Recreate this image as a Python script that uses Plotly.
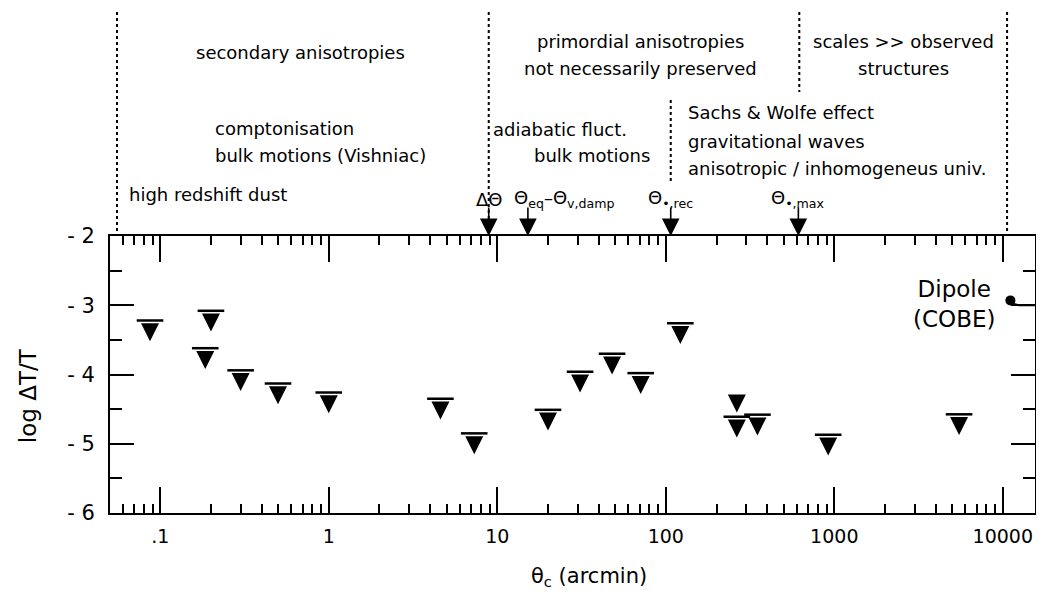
import numpy as np
import plotly.graph_objects as go

# upper limits on log dT/T (level of the bar) vs angular scale theta_c in arcmin
theta_c = [0.087, 0.2, 0.185, 0.30, 0.5, 1.0, 4.6, 7.3, 20, 31, 48, 71, 122, 264, 350, 920, 5500]
log_dT = [-3.22, -3.08, -3.62, -3.94, -4.13, -4.26, -4.35, -4.85, -4.51, -3.96,
          -3.70, -3.98, -3.26, -4.61, -4.58, -4.87, -4.575]

# limit drawn without a bar
theta_nobar = [264]
log_dT_nobar = [-4.25]

# COBE dipole
dipole_theta = [11090]
dipole_log_dT = [-2.93]

# characteristic scales marked by arrows on the top axis
scale_theta = [8.9, 15.2, 107, 612]
scale_names = ["ΔΘ", "Θ<sub>eq</sub>–Θ<sub>v,damp</sub>", "Θ<sub>•,rec</sub>", "Θ<sub>•,max</sub>"]

# dotted region boundaries above the frame
full_bounds = [0.0554, 8.9, 10600]
upper_bound = [620]
middle_bound = [107]

x_tickvals = [0.1, 1, 10, 100, 1000, 10000]
x_ticktext = [".1", "1", "10", "100", "1000", "10000"]
y_tickvals = [-2, -3, -4, -5, -6]
y_ticktext = ["- 2", "- 3", "- 4", "- 5", "- 6"]

W, H = 1044, 595
L, R, T, B = 110, 7, 236, 82
PAGE = 8  # default body margin of the html page
x_range = [-1.298, 4.191]
y_range = [-6, -2]
FONT = "DejaVu Sans"

bar_to_tip = 0.30  # triangle tip sits this far below the bar (in log dT/T units)


def xp(v):
    return (np.log10(v) - x_range[0]) / (x_range[1] - x_range[0])


def px2x(px):
    return (px - L) / (W - L - R)


def py2y(py):
    return (H - B - py) / (H - T - B)


fig = go.Figure()

fig.add_trace(go.Scatter(
    x=theta_c, y=log_dT, mode="markers", cliponaxis=False,
    marker=dict(symbol="line-ew", size=19, line=dict(width=2.5, color="black")),
    hoverinfo="skip"))
fig.add_trace(go.Scatter(
    x=theta_c + theta_nobar,
    y=[v - bar_to_tip for v in log_dT + log_dT_nobar],
    mode="markers", cliponaxis=False,
    marker=dict(symbol="arrow-down", size=18, color="black", line=dict(width=0))))

# dipole point with its hook to the frame
hook_x = [dipole_theta[0], dipole_theta[0] * 1.05, dipole_theta[0] * 1.12, 10 ** x_range[1]]
hook_y = [dipole_log_dT[0], dipole_log_dT[0] - 0.05, dipole_log_dT[0] - 0.07, dipole_log_dT[0] - 0.07]
fig.add_trace(go.Scatter(x=hook_x, y=hook_y, mode="lines", line=dict(color="black", width=2)))
fig.add_trace(go.Scatter(x=dipole_theta, y=dipole_log_dT, mode="markers", cliponaxis=False,
                         marker=dict(symbol="circle", size=10, color="black")))

shapes = []
dot = dict(color="black", width=2, dash="3px,3px")
for v in full_bounds:
    shapes.append(dict(type="line", xref="paper", yref="paper", x0=xp(v), x1=xp(v),
                       y0=py2y(12), y1=1, line=dot))
for v in upper_bound:
    shapes.append(dict(type="line", xref="paper", yref="paper", x0=xp(v), x1=xp(v),
                       y0=py2y(12), y1=py2y(92), line=dot))
for v in middle_bound:
    shapes.append(dict(type="line", xref="paper", yref="paper", x0=xp(v), x1=xp(v),
                       y0=py2y(100), y1=py2y(184), line=dot))

annotations = []
for v in scale_theta:
    annotations.append(dict(x=np.log10(v), xref="x", y=1, yref="paper", text="",
                            showarrow=True, ax=0, ay=-30, arrowhead=2, arrowsize=2.2,
                            arrowwidth=1.6, arrowcolor="black"))

lab = dict(xref="paper", yref="paper", showarrow=False, font=dict(family=FONT, size=18, color="black"))
scale_lab = [(xp(scale_theta[0]), "center"), (px2x(513), "left"),
             (xp(scale_theta[2]), "center"), (xp(scale_theta[3]), "center")]
for (x, anc), name in zip(scale_lab, scale_names):
    annotations.append(dict(lab, x=x, y=py2y(199), text=name, xanchor=anc, yanchor="middle"))

header = [
    ("secondary anisotropies", 301, 53, "center"),
    ("comptonisation", 213, 128, "left"),
    ("bulk motions (Vishniac)", 213, 155, "left"),
    ("high redshift dust", 127, 195, "left"),
    ("primordial anisotropies", 642, 41, "center"),
    ("not necessarily preserved", 642, 68, "center"),
    ("scales >> observed", 905, 41, "center"),
    ("structures", 905, 68, "center"),
    ("adiabatic fluct.", 492, 130, "left"),
    ("bulk motions", 653, 156, "right"),
    ("Sachs & Wolfe effect", 687, 112, "left"),
    ("gravitational waves", 687, 141, "left"),
    ("anisotropic / inhomogeneus univ.", 687, 169, "left"),
]
for text, x, y, anc in header:
    annotations.append(dict(lab, x=px2x(x), y=py2y(y), text=text, xanchor=anc, yanchor="middle"))

annotations.append(dict(lab, x=px2x(956), y=py2y(304), text="Dipole<br>(COBE)", xanchor="center",
                        yanchor="middle", font=dict(family=FONT, size=23, color="black")))
annotations.append(dict(lab, x=px2x(28), y=py2y(396), text="log ΔT/T", textangle=-90,
                        xanchor="center", yanchor="middle", font=dict(family=FONT, size=23, color="black")))
annotations.append(dict(lab, x=px2x(590), y=py2y(577), text="θ<sub>c</sub> (arcmin)",
                        xanchor="center", yanchor="middle", font=dict(family=FONT, size=21, color="black")))

# the page adds an 8px body margin, so the figure is drawn 8px smaller and shifted
fig.update_layout(
    width=W - PAGE, height=H - PAGE, margin=dict(l=L - PAGE, r=R, t=T - PAGE, b=B),
    paper_bgcolor="white", plot_bgcolor="white", showlegend=False,
    shapes=shapes, annotations=annotations,
    font=dict(family=FONT, color="black"),
)
fig.update_xaxes(
    type="log", range=x_range, showgrid=False, zeroline=False,
    showline=True, linewidth=2, linecolor="black", mirror="ticks",
    ticks="inside", ticklen=26, tickwidth=2, tickcolor="black",
    tickmode="array", tickvals=x_tickvals, ticktext=x_ticktext,
    tickfont=dict(family=FONT, size=19, color="black"), ticklabelstandoff=5,
    minor=dict(ticks="inside", ticklen=9, tickwidth=1.6, tickcolor="black", tickmode="array",
               tickvals=[m * 10.0 ** e for e in range(-2, 5) for m in range(2, 10)]),
)
fig.update_yaxes(
    range=y_range, showgrid=False, zeroline=False,
    showline=True, linewidth=2, linecolor="black", mirror="ticks",
    ticks="inside", ticklen=24, tickwidth=2, tickcolor="black",
    tickmode="array", tickvals=y_tickvals, ticktext=y_ticktext,
    tickfont=dict(family=FONT, size=21, color="black"), ticklabelstandoff=9,
    minor=dict(ticks="inside", ticklen=12, tickwidth=1.6, tickcolor="black", dtick=0.5),
)

fig.write_html("out.html")
